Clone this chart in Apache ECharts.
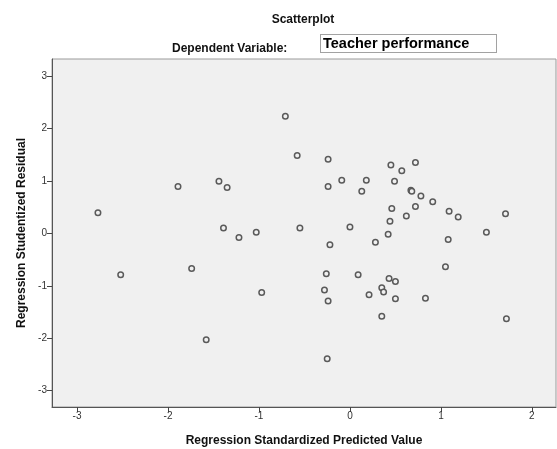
<!DOCTYPE html>
<html>
<head>
<meta charset="utf-8">
<script src="https://cdn.jsdelivr.net/npm/echarts@6/dist/echarts.min.js"></script>
<style>html,body{margin:0;padding:0;background:#fff}#c{width:557px;height:449px}</style>
</head>
<body>
<div id="c"></div>
<script>
const predicted = [-2.77,-1.89,-1.44,-1.35,-1.39,-1.22,-1.03,-0.71,-0.58,-0.24,-0.09,0.18,0.45,0.57,0.72,-0.24,0.13,0.49,0.67,0.68,0.78,0.91,0.46,0.72,0.62,1.09,1.19,1.71,0.44,0.42,0.28,-0.55,0.00,-0.22,1.08,1.50,-2.52,-1.74,-1.58,-0.97,-0.26,0.09,-0.28,-0.24,0.43,0.50,0.35,0.37,0.21,0.50,0.35,-0.25,1.05,0.83,1.72];
const residual  = [0.39,0.89,0.99,0.87,0.10,-0.08,0.02,2.23,1.48,1.41,1.01,1.01,1.30,1.19,1.35,0.89,0.80,0.99,0.82,0.80,0.71,0.60,0.47,0.51,0.33,0.42,0.31,0.37,0.23,-0.02,-0.17,0.10,0.12,-0.22,-0.12,0.02,-0.79,-0.67,-2.03,-1.13,-0.77,-0.79,-1.08,-1.29,-0.86,-0.92,-1.04,-1.12,-1.17,-1.25,-1.58,-2.39,-0.64,-1.24,-1.63];
const xTicks = [-3,-2,-1,0,1,2];
const yTicks = [-3,-2,-1,0,1,2,3];

const points = predicted.map((v,i)=>[v,residual[i]]);
const font = 'Liberation Sans, Arial, sans-serif';
const chart = echarts.init(document.getElementById('c'));
chart.setOption({
  animation:false,
  backgroundColor:'#fff',
  title:[
    {text:'Scatterplot',left:298,top:9,textAlign:'center',textStyle:{fontFamily:font,fontSize:12,fontWeight:'bold',color:'#111'}},
    {text:'Dependent Variable:',left:167,top:38,textStyle:{fontFamily:font,fontSize:12,fontWeight:'bold',color:'#111'}}
  ],
  graphic:[
    {type:'rect',shape:{x:320.5,y:34.5,width:176,height:18},style:{fill:'#fff',stroke:'#444',lineWidth:1,lineDash:[1,1]}},
    {type:'text',x:323,y:44,style:{text:'Teacher performance',font:'bold 14.5px '+font,fill:'#000',verticalAlign:'middle'}}
  ],
  grid:{left:52,right:1,top:59,bottom:42,outerBoundsMode:'none',containLabel:false,show:true,backgroundColor:'#f0f0f0',borderColor:'#9a9a9a',borderWidth:1},
  xAxis:{type:'value',min:-3.275,max:2.265,
    name:'Regression Standardized Predicted Value',nameLocation:'middle',nameGap:28,
    nameTextStyle:{fontFamily:font,fontSize:12,fontWeight:'bold',color:'#111'},
    axisLine:{show:true,onZero:false,lineStyle:{color:'#555',width:1}},
    axisTick:{show:true,inside:false,length:5,lineStyle:{color:'#444'},customValues:xTicks},
    axisLabel:{fontFamily:font,fontSize:10,color:'#333',margin:4,customValues:xTicks,formatter:v=>String(v)},
    splitLine:{show:false}},
  yAxis:{type:'value',min:-3.31,max:3.32,
    name:'Regression Studentized Residual',nameLocation:'middle',nameGap:24,
    nameTextStyle:{fontFamily:font,fontSize:12,fontWeight:'bold',color:'#111'},
    axisLine:{show:true,onZero:false,lineStyle:{color:'#555',width:1}},
    axisTick:{show:true,inside:false,length:5,lineStyle:{color:'#444'},customValues:yTicks},
    axisLabel:{fontFamily:font,fontSize:10,color:'#333',margin:5,customValues:yTicks,formatter:v=>String(v)},
    splitLine:{show:false}},
  series:[{type:'scatter',data:points,symbol:'circle',symbolSize:5.5,
    itemStyle:{color:'#f0f0f0',borderColor:'#5a5a5a',borderWidth:1.5,opacity:1}}]
});
</script>
</body>
</html>
